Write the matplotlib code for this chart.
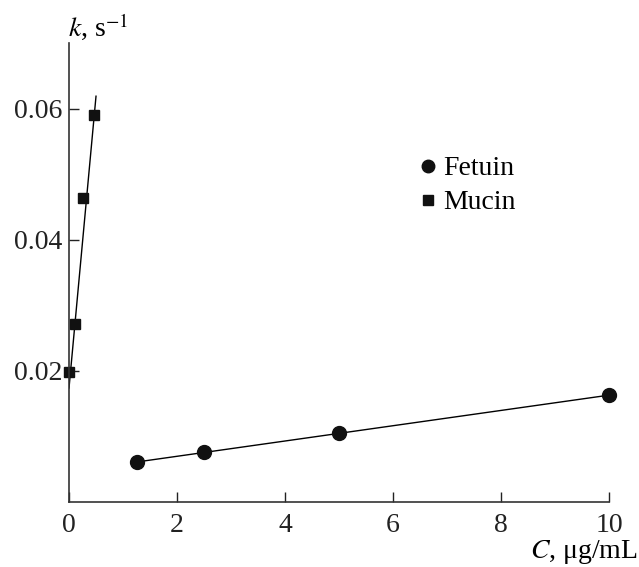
import numpy as np
import matplotlib
matplotlib.use("Agg")
import matplotlib.pyplot as plt

plt.rcParams['font.family'] = ['Liberation Serif', 'DejaVu Serif']
plt.rcParams['mathtext.fontset'] = 'stix'

# data
fetuin_c = [1.25, 2.5, 5.0, 10.0]
fetuin_k = [0.0061, 0.0077, 0.0106, 0.0163]
mucin_c = [0.0, 0.11, 0.25, 0.47]
mucin_k = [0.0198, 0.0272, 0.0463, 0.0590]

# fitted lines (end points)
fetuin_fit_c = [1.25, 10.0]
fetuin_fit_k = [0.0061, 0.0163]
mucin_fit_c = [0.0, 0.5]
mucin_fit_k = [0.0174, 0.0619]

x_ticks = [0, 2, 4, 6, 8, 10]
y_ticks = [0.02, 0.04, 0.06]
y_tick_labels = ["0.02", "0.04", "0.06"]

fig = plt.figure(figsize=(6.39, 5.67), dpi=100)
ax = fig.add_axes([0.108, 0.1146, 0.845, 0.8094])

ax.plot(fetuin_fit_c, fetuin_fit_k, color='black', lw=1.0)
ax.plot(mucin_fit_c, mucin_fit_k, color='black', lw=1.0)
ax.plot(fetuin_c, fetuin_k, 'o', color='#111111', ms=10, label='Fetuin', clip_on=False)
ax.plot(mucin_c, mucin_k, 's', color='#111111', ms=7.5, label='Mucin', clip_on=False)

ax.set_xlim(0, 10)
ax.set_ylim(0, 0.07)
ax.set_xticks(x_ticks)
ax.set_xticklabels([str(t) for t in x_ticks])
ax.set_yticks(y_ticks)
ax.set_yticklabels(y_tick_labels)

for s in ['top', 'right']:
    ax.spines[s].set_visible(False)
for s in ['left', 'bottom']:
    ax.spines[s].set_linewidth(1.2)
    ax.spines[s].set_color('#333333')

ax.tick_params(direction='in', length=7, width=1.0, labelsize=20, colors='#222222')
ax.tick_params(axis='x', pad=8)
ax.tick_params(axis='y', pad=5)

fig.text(68 / 639, 1 - 36 / 567, r'$k$, s$^{-1}$', fontsize=20,
         ha='left', va='baseline')
fig.text(0.998, 1 - 558 / 567, r'$C$, μg/mL', fontsize=20,
         ha='right', va='baseline')

leg = ax.legend(loc='upper left', bbox_to_anchor=(420 / 639, 1 - 156 / 567),
                bbox_transform=fig.transFigure, frameon=False,
                fontsize=20, handlelength=0.6, handletextpad=0.22,
                labelspacing=0.3, borderpad=0, borderaxespad=0, markerscale=0.9)

fig.savefig('out.png', dpi=100)
